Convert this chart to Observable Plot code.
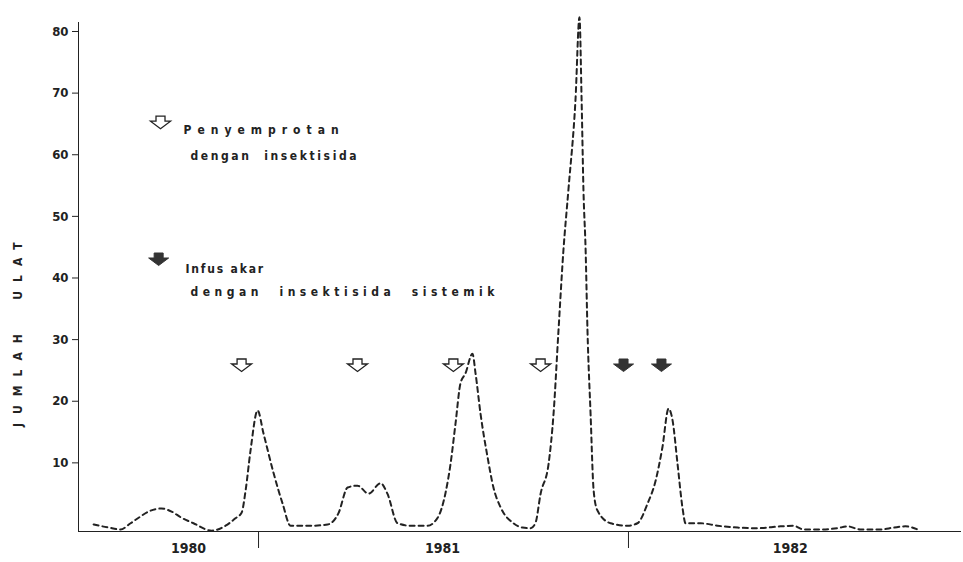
<!DOCTYPE html>
<html>
<head>
<meta charset="utf-8">
<script src="https://cdn.jsdelivr.net/npm/d3@7"></script>
<script src="https://cdn.jsdelivr.net/npm/@observablehq/plot@0.6"></script>
<style>
  html, body { margin: 0; padding: 0; background: #fff; }
  #chart { width: 963px; height: 562px; overflow: hidden; }
</style>
</head>
<body>
<div id="chart"></div>
<script>
// Month index (0 = January 1980)
const months = [6.65, 7.14, 7.52, 7.85, 8.11, 8.43, 8.85, 9.18, 9.50, 9.89, 10.48, 10.93, 11.25, 11.45, 11.58, 11.74, 11.97, 12.16, 12.49, 12.78, 13.04, 13.69, 14.24, 14.59, 14.89, 15.21, 15.57, 15.96, 16.18, 16.51, 16.93, 17.48, 17.81, 18.06, 18.23, 18.39, 18.55, 18.71, 18.94, 19.04, 19.20, 19.43, 19.62, 19.85, 20.27, 20.56, 20.82, 20.98, 21.15, 21.41, 21.57, 21.73, 21.89, 22.05, 22.28, 22.41, 22.48, 22.54, 22.61, 22.67, 22.77, 22.87, 22.99, 23.42, 23.97, 24.29, 24.62, 24.88, 25.10, 25.30, 25.43, 25.59, 25.75, 25.85, 26.34, 26.89, 27.54, 28.18, 28.93, 29.35, 29.68, 30.23, 30.78, 31.10, 31.52, 32.17, 32.60, 32.98, 33.47];
// Number of larvae (Jumlah ulat)
const counts = [0, -0.5, -0.8, 0.2, 1.1, 2.1, 2.6, 2.1, 1.1, 0.2, -1.0, -0.2, 1.0, 1.9, 5.5, 12.0, 18.5, 14.8, 8.3, 3.4, -0.2, -0.2, 0, 1.8, 6.0, 6.3, 5.0, 6.7, 5.0, 0.2, -0.2, -0.2, 1.1, 5.0, 9.9, 16.4, 22.9, 24.5, 27.7, 24.5, 18.0, 10.9, 6.0, 2.8, 0.2, -0.5, -0.6, 0.2, 5.0, 9.9, 18.0, 31.5, 44.5, 54.2, 68.8, 82.3, 68.8, 54.2, 44.5, 31.5, 18.0, 5.5, 2.3, 0.2, -0.2, 0.2, 3.4, 7.1, 12.5, 18.8, 16.9, 9.9, 2.8, 0.2, 0.2, -0.2, -0.5, -0.6, -0.3, -0.2, -0.8, -0.8, -0.6, -0.3, -0.8, -0.8, -0.5, -0.3, -1.0];

// Treatments
const sprayMonths = [11.45, 15.21, 18.32, 21.15];     // open arrows: Penyemprotan dengan insektisida
const infusionMonths = [23.84, 25.07];               // filled arrows: Infus akar dengan insektisida sistemik

// Axis labels
const yTicks = [10, 20, 30, 40, 50, 60, 70, 80];
const yearBoundaries = [12, 24];
const yearLabels = ["1980", "1981", "1982"];
const yearLabelAt = [9.73, 17.97, 29.25];

const series = months.map((m, i) => ({m, v: counts[i]}));
const years = yearLabels.map((t, i) => ({t, m: yearLabelAt[i]}));

const arrow = {
  draw(ctx) {
    ctx.moveTo(-4.5, -6.5);
    ctx.lineTo(4.5, -6.5);
    ctx.lineTo(4.5, -1.5);
    ctx.lineTo(10, -1.5);
    ctx.lineTo(0, 6);
    ctx.lineTo(-10, -1.5);
    ctx.lineTo(-4.5, -1.5);
    ctx.closePath();
  }
};

const ink = "#222";
const font = "'DejaVu Sans Condensed', 'Liberation Sans Narrow', sans-serif";

const chart = Plot.plot({
  width: 963,
  height: 562,
  marginLeft: 78,
  marginRight: 3,
  marginTop: 22,
  marginBottom: 31,
  style: {fontFamily: font, fontSize: "13px", fontWeight: "bold", color: ink, background: "#fff"},
  x: {domain: [6.16, 34.77], ticks: yearBoundaries, tickSize: 17, tickFormat: () => "", label: null, line: true},
  y: {domain: [-1.136, 81.46], ticks: yTicks, tickSize: 6, tickPadding: 4, label: null, line: true},
  marks: [
    Plot.line(series, {x: "m", y: "v", stroke: ink, strokeWidth: 2, strokeDasharray: "5,4", curve: "monotone-x"}),
    Plot.dot(sprayMonths, {x: d => d, y: 25.8, symbol: arrow, r: 5, fill: "#fff", stroke: ink, strokeWidth: 1.3}),
    Plot.dot(infusionMonths, {x: d => d, y: 25.8, symbol: arrow, r: 5, fill: "#333", stroke: "#333", strokeWidth: 1}),
    Plot.text(years, {x: "m", text: "t", frameAnchor: "bottom", dy: 21, fontSize: 14, fill: ink}),
    Plot.text(["JUMLAH  ULAT"], {frameAnchor: "left", dx: -60, dy: 150, rotate: -90, fontSize: 12, fill: ink}),
    // legend
    Plot.dot([0], {x: 8.82, y: 65.2, symbol: arrow, r: 5, fill: "#fff", stroke: ink, strokeWidth: 1.3}),
    Plot.dot([0], {x: 8.76, y: 43.0, symbol: arrow, r: 5, fill: "#333", stroke: "#333", strokeWidth: 1}),
    Plot.text(["Penyemprotan"], {frameAnchor: "top-left", dx: 105, dy: 103, textAnchor: "start", fontSize: 12, fill: ink}),
    Plot.text(["dengan  insektisida"], {frameAnchor: "top-left", dx: 112, dy: 129, textAnchor: "start", fontSize: 12, fill: ink}),
    Plot.text(["Infus akar"], {frameAnchor: "top-left", dx: 107, dy: 242, textAnchor: "start", fontSize: 12, fill: ink}),
    Plot.text(["dengan  insektisida  sistemik"], {frameAnchor: "top-left", dx: 112, dy: 265, textAnchor: "start", fontSize: 12, fill: ink})
  ]
});

const spacing = {
  "Penyemprotan": 6,
  "dengan  insektisida": 2.6,
  "Infus akar": 1.8,
  "dengan  insektisida  sistemik": 4.5,
  "JUMLAH  ULAT": 9
};
chart.querySelectorAll("text").forEach(t => {
  const s = spacing[t.textContent];
  if (s !== undefined) t.setAttribute("letter-spacing", s);
  t.style.whiteSpace = "pre";
});
document.getElementById("chart").appendChild(chart);
</script>
</body>
</html>
